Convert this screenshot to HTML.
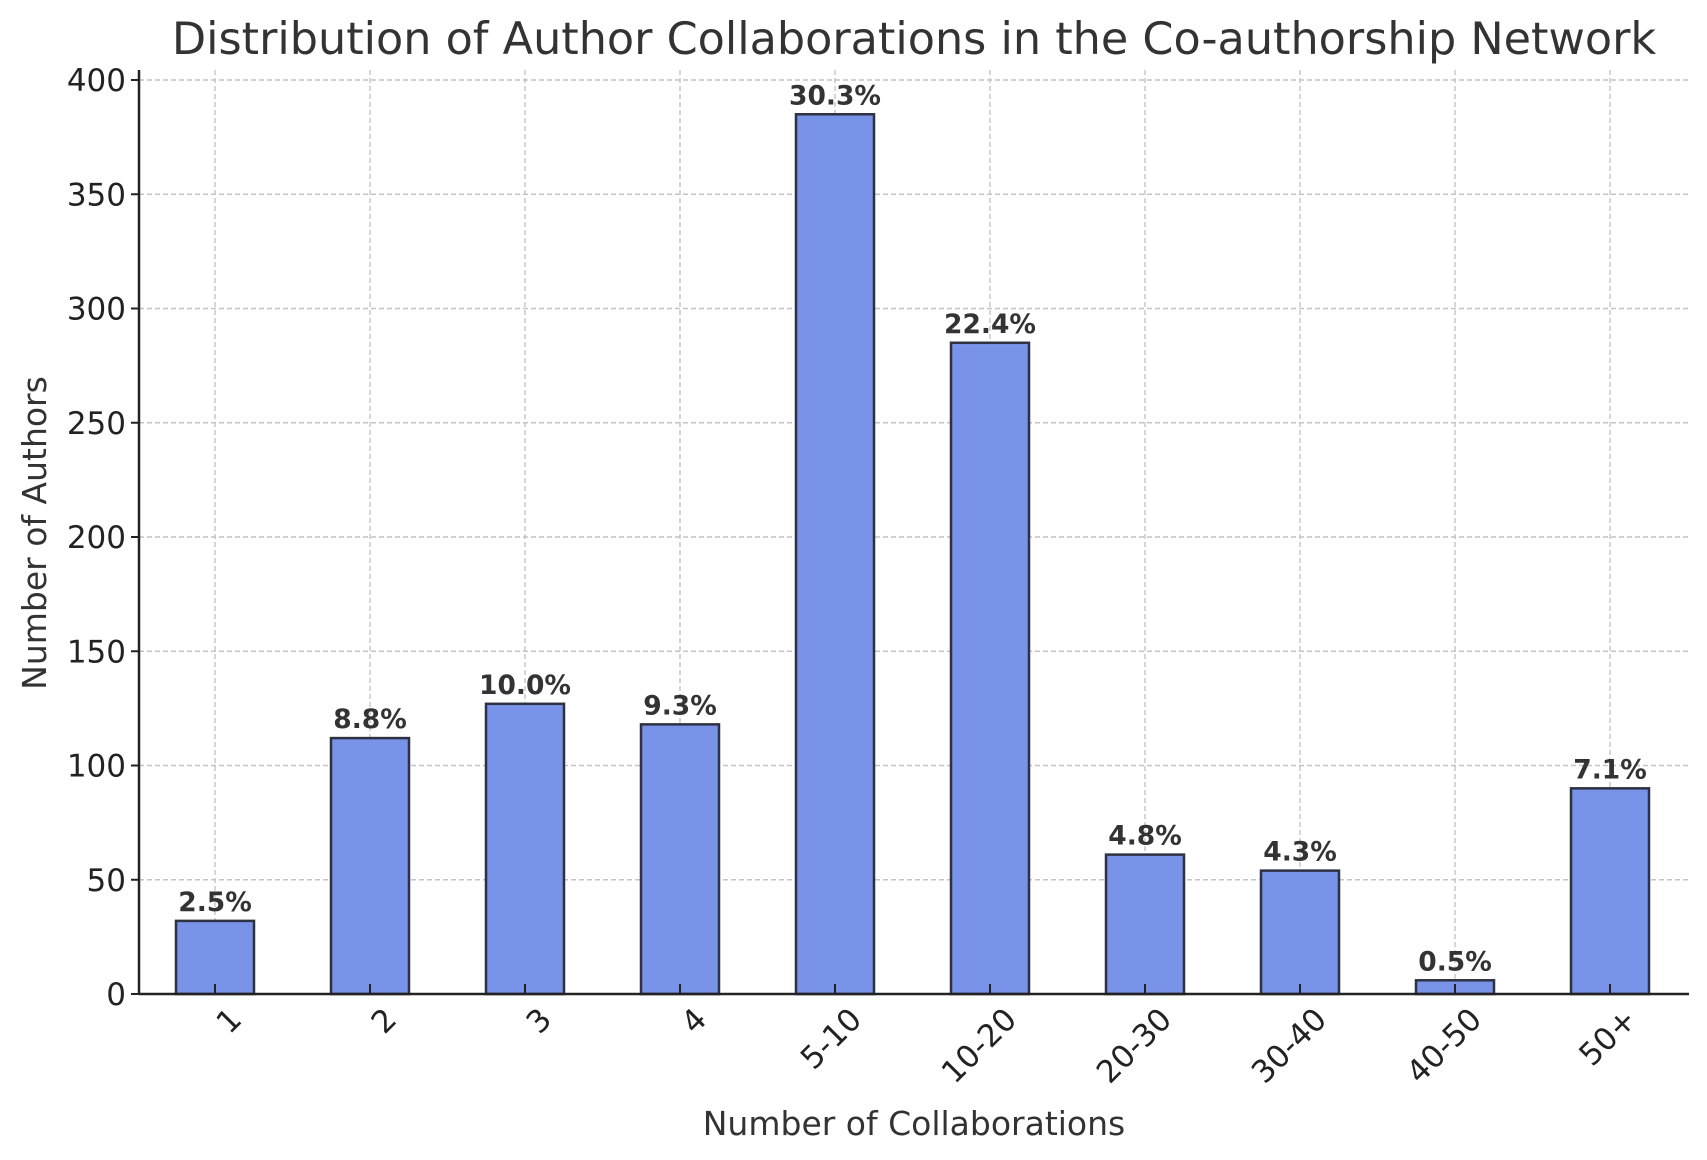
<!DOCTYPE html>
<html><head><meta charset="utf-8"><style>
body{margin:0;background:#fff}
svg{display:block;font-family:"DejaVu Sans","Liberation Sans",sans-serif}
</style></head><body>
<svg id="chart" width="1707" height="1160" xmlns="http://www.w3.org/2000/svg">
<text x="914" y="54" text-anchor="middle" font-size="44.5" fill="#333">Distribution of Author Collaborations in the Co-authorship Network</text>
<text transform="translate(46,533) rotate(-90)" text-anchor="middle" font-size="33" fill="#333">Number of Authors</text>
<text x="914" y="1135" text-anchor="middle" font-size="33" fill="#333">Number of Collaborations</text>
<g id="grid"></g><g id="bars"></g><g id="axes"></g>
</svg>
<script>
const categories=["1","2","3","4","5-10","10-20","20-30","30-40","40-50","50+"];
const values=[32,112,127,118,385,285,61,54,6,90];
const percents=["2.5%","8.8%","10.0%","9.3%","30.3%","22.4%","4.8%","4.3%","0.5%","7.1%"];
const yTicks=[0,50,100,150,200,250,300,350,400];
const NS="http://www.w3.org/2000/svg";
const L=139,R=1689,B=994,T=80;
const y=v=>B-(v/400)*(B-T);
const x=i=>215+i*155;
const bw=78;
function mk(tag,attrs,parent,text){const e=document.createElementNS(NS,tag);for(const k in attrs)e.setAttribute(k,attrs[k]);if(text!==undefined)e.textContent=text;document.getElementById(parent).appendChild(e);return e;}
yTicks.forEach(t=>{
 const g=mk('line',{x1:L,x2:R,y1:y(t),y2:y(t),stroke:'#c4c4c4','stroke-width':1.4,'stroke-dasharray':'5,3'},'grid');
 
 
 const tk=mk('line',{x1:L-8,x2:L,y1:y(t),y2:y(t),stroke:'#222','stroke-width':2},'axes');
 
 
 const lb=mk('text',{x:L-13,y:y(t)+11,'text-anchor':'end','font-size':31,fill:'#222'},'axes',String(t));
 
 
});
categories.forEach((c,i)=>{
 const g=mk('line',{x1:x(i),x2:x(i),y1:T-10,y2:B,stroke:'#c4c4c4','stroke-width':1.4,'stroke-dasharray':'5,3'},'grid');
 
 
 const b=mk('rect',{x:x(i)-bw/2,y:y(values[i]),width:bw,height:B-y(values[i]),fill:'#7893e8',stroke:'#2d3142','stroke-width':2.5},'bars');
 
 
 const p=mk('text',{x:x(i),y:y(values[i])-10,'text-anchor':'middle','font-size':26.5,'font-weight':'bold',fill:'#333'},'bars',percents[i]);
 
 
 const tk=mk('line',{x1:x(i),x2:x(i),y1:B,y2:B-10,stroke:'#222','stroke-width':2},'axes');
 
 
 const lb=mk('text',{transform:`translate(${x(i)+13},${B+12}) rotate(-45)`,'text-anchor':'end','font-size':31,fill:'#222',dy:'0.7em'},'axes',c);
 
 
});
const ax=mk('line',{x1:L,x2:L,y1:T-10,y2:B,stroke:'#222','stroke-width':2.5},'axes');


const bx=mk('line',{x1:L,x2:R,y1:B,y2:B,stroke:'#222','stroke-width':2.5},'axes');


</script>
</body></html>
